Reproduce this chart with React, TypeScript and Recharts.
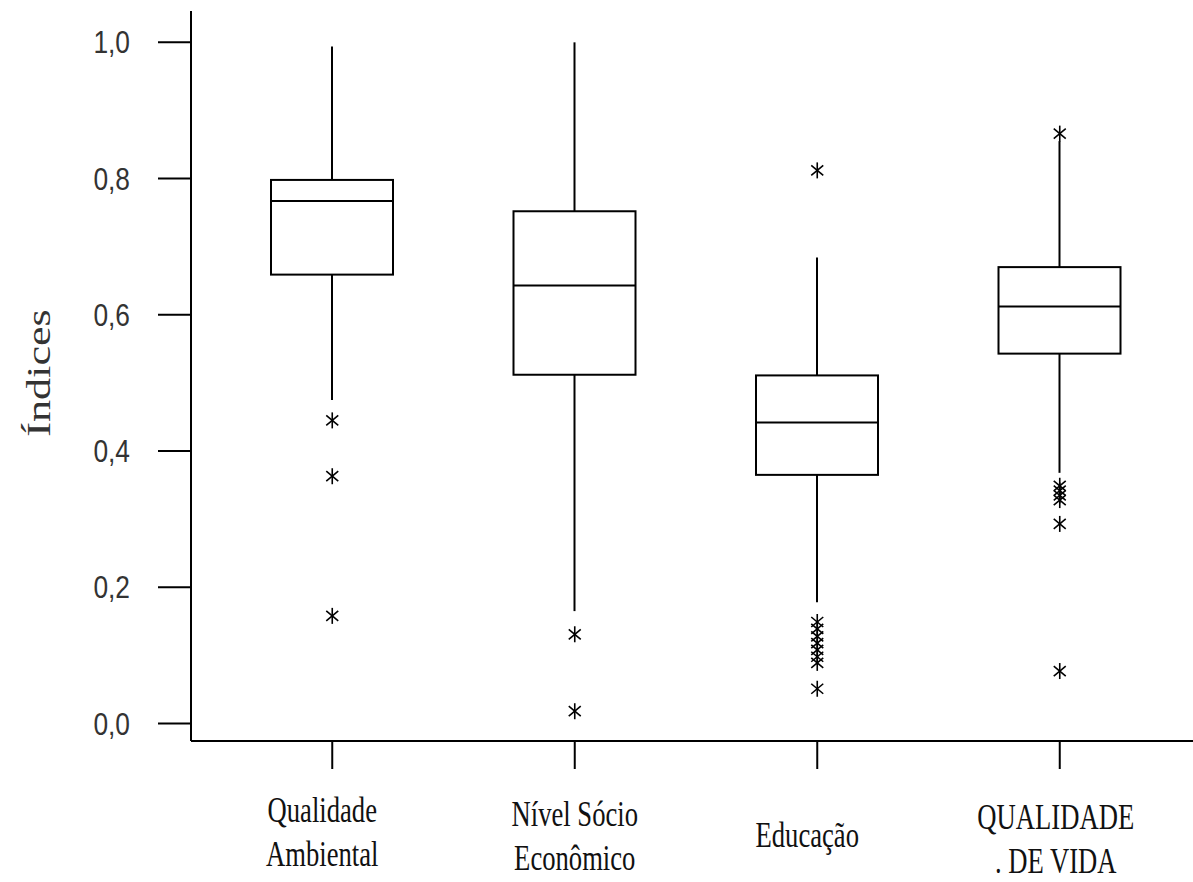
import { ComposedChart, Bar, Line, XAxis, YAxis } from 'recharts'

// categories and box statistics
const categories = ['Qualidade Ambiental', 'Nível Sócio Econômico', 'Educação', 'QUALIDADE DE VIDA']
const labelLines = [['Qualidade', 'Ambiental'], ['Nível Sócio', 'Econômico'], ['Educação'], ['QUALIDADE', '. DE VIDA']]
const whiskerLow = [0.475, 0.165, 0.178, 0.368]
const q1 = [0.659, 0.512, 0.365, 0.543]
const median = [0.767, 0.643, 0.442, 0.612]
const q3 = [0.798, 0.752, 0.511, 0.67]
const whiskerHigh = [0.994, 1.0, 0.684, 0.855]
const outliers = [
  [0.445, 0.363, 0.158],
  [0.131, 0.018],
  [0.812, 0.149, 0.139, 0.128, 0.118, 0.108, 0.098, 0.089, 0.051],
  [0.866, 0.349, 0.342, 0.335, 0.328, 0.293, 0.077],
]
const yTicks = [0, 0.2, 0.4, 0.6, 0.8, 1.0]
const yDomain = [-0.0257, 1.046]

const maxOut = Math.max(...outliers.map((o) => o.length))
const outKeys = Array.from({ length: maxOut }, (_, i) => `o${i}`)

const data = categories.map((name, i) => {
  const row: Record<string, unknown> = {
    name,
    range: [whiskerLow[i], whiskerHigh[i]],
    lo: whiskerLow[i],
    hi: whiskerHigh[i],
    q1: q1[i],
    med: median[i],
    q3: q3[i],
  }
  outKeys.forEach((k, j) => {
    row[k] = outliers[i][j] ?? null
  })
  return row
})

// label baseline offsets below the tick end (px), and small horizontal nudges
const firstLineDy = [51, 55, 76, 58]
const labelDx = [-10, 0, -10, -4]

// eslint-disable-next-line @typescript-eslint/no-explicit-any
function BoxShape(props: any) {
  const { x, y, width, height, payload } = props
  const top = Math.min(y, y + height)
  const bottom = Math.max(y, y + height)
  const k = (bottom - top) / (payload.hi - payload.lo)
  const py = (v: number) => bottom - (v - payload.lo) * k
  const cx = x + width / 2
  return (
    <g stroke="#000" strokeWidth={2} fill="none">
      <line x1={cx} x2={cx} y1={top} y2={py(payload.q3)} />
      <line x1={cx} x2={cx} y1={py(payload.q1)} y2={bottom} />
      <rect x={x} y={py(payload.q3)} width={width} height={py(payload.q1) - py(payload.q3)} fill="#fff" />
      <line x1={x} x2={x + width} y1={py(payload.med)} y2={py(payload.med)} />
    </g>
  )
}

// eslint-disable-next-line @typescript-eslint/no-explicit-any
function Star(props: any) {
  const { cx, cy, value, key } = props
  if (value == null || cy == null || isNaN(cy)) return <g key={key} />
  return (
    <g key={key} stroke="#000" strokeWidth={1.6}>
      <line x1={cx} x2={cx} y1={cy - 8} y2={cy + 8} />
      <line x1={cx - 6} x2={cx + 6} y1={cy - 5} y2={cy + 5} />
      <line x1={cx - 6} x2={cx + 6} y1={cy + 5} y2={cy - 5} />
    </g>
  )
}

// eslint-disable-next-line @typescript-eslint/no-explicit-any
function YTick(props: any) {
  const { x, y, payload } = props
  return (
    <g transform={`translate(${x - 26},${y})`}>
      <text
        textAnchor="end"
        dy={11}
        transform="scale(0.85,1)"
        fill="#333"
        fontSize={31}
        fontFamily="'Liberation Sans', Arial, sans-serif"
      >
        {payload.value.toFixed(1).replace('.', ',')}
      </text>
    </g>
  )
}

// eslint-disable-next-line @typescript-eslint/no-explicit-any
function XTick(props: any) {
  const { x, y, index } = props
  const lines = labelLines[index] || []
  return (
    <g transform={`translate(${x + labelDx[index]},${y})`}>
      {lines.map((t, i) => (
        <text
          key={i}
          y={firstLineDy[index] + i * 44}
          textAnchor="middle"
          transform="scale(0.74,1)"
          fill="#111"
          fontSize={36}
          fontFamily="'Liberation Serif', 'Times New Roman', serif"
        >
          {t}
        </text>
      ))}
    </g>
  )
}

export default function App() {
  return (
    <div style={{ position: 'absolute', left: 0, top: 0, width: 1193, height: 882, overflow: 'hidden', background: '#fff' }}>
      <ComposedChart width={1200} height={882} data={data} margin={{ top: 11, right: 5, left: 0, bottom: 0 }}>
        <XAxis
          dataKey="name"
          interval={0}
          padding={{ left: 20, right: 14 }}
          tickSize={28}
          tickLine={{ stroke: '#000', strokeWidth: 2 }}
          axisLine={{ stroke: '#000', strokeWidth: 2 }}
          tick={XTick}
          height={141}
        />
        {/* top edge of the frame */}
        <XAxis
          xAxisId="top"
          orientation="top"
          dataKey="name"
          height={0}
          tick={false}
          tickLine={false}
          axisLine={{ stroke: '#000', strokeWidth: 2 }}
        />
        <YAxis
          type="number"
          domain={yDomain}
          ticks={yTicks}
          allowDataOverflow
          width={191}
          tickSize={33}
          tickLine={{ stroke: '#000', strokeWidth: 2 }}
          axisLine={{ stroke: '#000', strokeWidth: 2 }}
          tick={YTick}
        />
        <Bar dataKey="range" barSize={122} shape={BoxShape} isAnimationActive={false} />
        {outKeys.map((k) => (
          <Line
            key={k}
            dataKey={k}
            stroke="none"
            dot={Star}
            activeDot={false}
            legendType="none"
            isAnimationActive={false}
          />
        ))}
        <text
          transform="translate(38,373) rotate(-90) scale(1.3,1)"
          textAnchor="middle"
          dy={12}
          fill="#333"
          fontSize={34}
          fontFamily="'Liberation Serif', 'Times New Roman', serif"
        >
          Índices
        </text>
      </ComposedChart>
    </div>
  )
}
